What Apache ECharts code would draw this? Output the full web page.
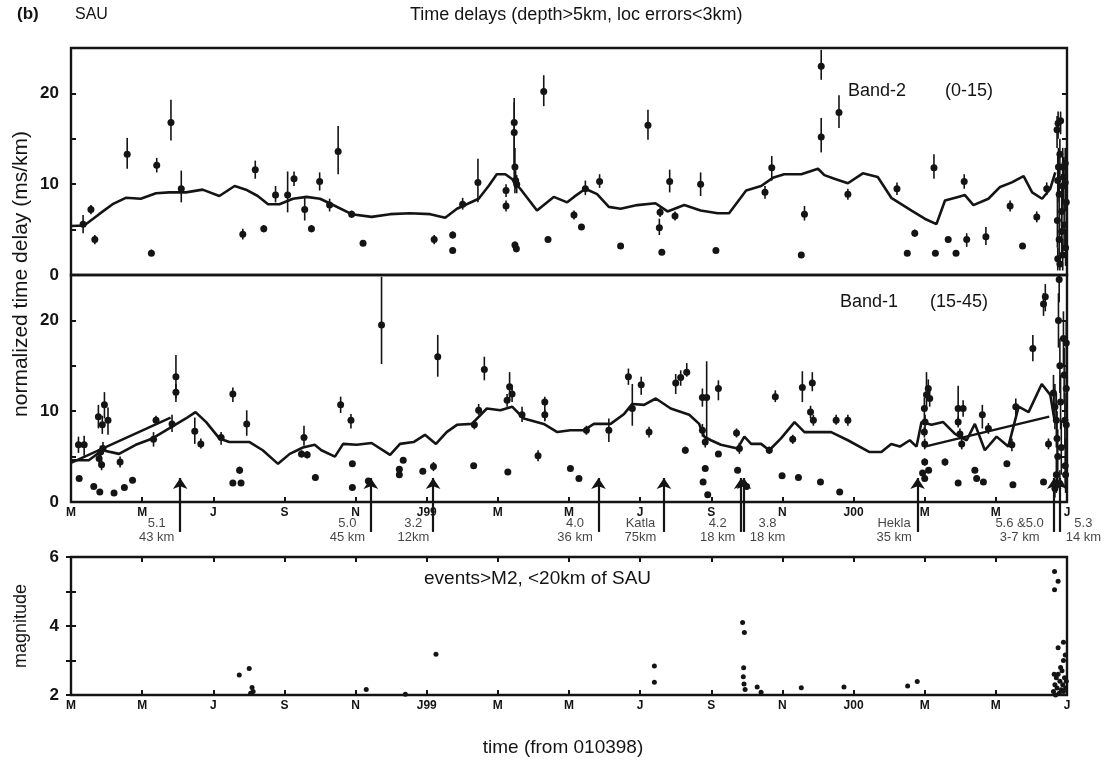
<!DOCTYPE html>
<html><head><meta charset="utf-8">
<script src="https://cdn.jsdelivr.net/npm/echarts@6/dist/echarts.min.js"></script>
<style>html,body{margin:0;padding:0;background:#fff}#c{width:1110px;height:761px}</style>
</head><body><div id="c"></div>
<script>
// x values are months since 1 March 1998
const monthTickLabels = ['M','M','J','S','N','J99','M','M','J','S','N','J00','M','M','J'];

// Band-2 (0-15): [month, delay, errLow, errHigh]
const band2Points = [
[0.34,5.6,4.6,6.6],[0.56,7.2,6.7,7.7],[0.67,3.9,3.4,4.4],[1.58,13.3,11.7,15.1],[2.26,2.4,2.1,2.8],
[2.41,12.1,11.3,12.9],[2.81,16.8,14.8,19.3],[3.10,9.5,8.0,11.5],[4.83,4.5,3.9,5.1],[5.18,11.6,10.6,12.6],
[5.42,5.1,4.7,5.5],[5.75,8.8,8.0,9.8],[6.09,8.8,6.9,11.4],[6.27,10.6,9.8,11.4],[6.57,7.2,6.0,8.6],
[6.76,5.1,4.7,5.5],[6.99,10.3,9.3,11.3],[7.27,7.7,7.0,8.4],[7.51,13.6,11.1,16.4],[7.89,6.7,6.3,7.1],
[8.21,3.5,3.2,3.8],[10.21,3.9,3.4,4.4],[10.73,4.4,4.0,4.8],[10.73,2.7,2.4,3.0],[11.01,7.8,7.2,8.5],
[11.44,10.2,8.0,12.8],[12.23,9.3,8.6,10.0],[12.23,7.6,7.0,8.2],[12.46,16.8,10.0,19.5],[12.46,15.7,12.0,19.0],
[12.48,11.9,9.0,14.0],[12.50,10.4,9.5,11.5],[12.53,10.0,9.0,11.0],[12.48,3.3,2.9,3.7],[12.52,2.9,2.5,3.3],
[13.29,20.2,18.6,22.0],[13.41,3.9,3.6,4.2],[14.14,6.6,6.1,7.1],[14.35,5.3,5.0,5.6],[14.46,9.5,8.8,10.4],
[14.86,10.3,9.6,11.1],[15.45,3.2,3.0,3.4],[16.22,16.5,14.9,18.2],[16.54,5.2,4.4,6.2],[16.56,6.9,6.4,7.4],
[16.61,2.5,2.3,2.7],[16.83,10.3,9.1,11.6],[16.98,6.5,6.0,7.0],[17.70,10.0,8.7,11.3],[18.13,2.7,2.5,2.9],
[19.51,9.1,8.4,9.8],[19.70,11.8,10.4,13.1],[20.53,2.2,2.0,2.4],[20.62,6.7,6.0,7.6],[21.09,23.0,21.5,24.8],
[21.09,15.2,13.5,17.3],[21.59,17.9,16.2,19.8],[21.84,8.9,8.3,9.5],[23.22,9.5,8.8,10.2],[23.51,2.4,2.2,2.6],
[23.72,4.6,4.2,5.0],[24.26,11.8,10.6,13.3],[24.30,2.4,2.2,2.6],[24.66,3.9,3.6,4.2],[24.88,2.4,2.2,2.6],
[25.11,10.3,9.5,11.1],[25.18,3.9,3.1,4.6],[25.72,4.2,3.3,5.3],[26.40,7.6,7.0,8.2],[26.75,3.2,3.0,3.4],
[27.15,6.4,5.8,7.0],[27.43,9.5,8.8,10.2],
[27.72,16.0,14,17.5],[27.75,16.7,15,18],[27.82,17.0,15.5,18],[27.76,11.9,9,14],[27.80,13.3,11,15],
[27.74,10.4,8,13],[27.78,8.9,6,12],[27.73,6.0,3,9],[27.78,3.9,1,6],[27.74,1.8,0.5,3],[27.88,11.9,9,14],
[27.90,10.8,8,13],[27.88,9.8,7,12],[27.95,12.3,10,14],[27.95,10.2,7,13],[27.85,7.0,4,10],[27.85,4.8,2,7],
[27.88,2.2,0.5,4],[27.92,5.5,3,8],[27.98,8.0,5,11],[27.96,3.0,1,5],[27.80,1.2,0.5,2]
];
const band2Curve = [
[0,5.4],[0.37,5.45],[0.79,6.7],[1.17,7.8],[1.54,8.5],[1.96,8.4],[2.39,9.0],[2.76,9.1],[3.23,9.1],[3.7,9.4],
[4.17,8.7],[4.6,9.8],[4.92,9.4],[5.25,8.7],[5.54,7.8],[5.86,7.8],[6.24,8.4],[6.62,8.6],[7.0,8.4],[7.27,7.9],
[7.89,6.7],[8.45,6.4],[8.97,6.7],[9.53,6.8],[10.1,6.7],[10.52,6.3],[10.85,7.3],[11.46,8.4],[11.74,9.8],
[11.97,11.1],[12.21,11.1],[12.39,10.6],[12.63,9.5],[13.1,7.1],[13.57,8.6],[13.95,8.0],[14.14,8.6],[14.46,9.5],
[14.79,8.9],[15.12,7.5],[15.45,7.3],[15.92,7.7],[16.43,7.9],[16.77,7.0],[17.24,7.7],[17.7,7.1],[18.18,6.8],
[18.5,6.8],[18.98,9.3],[19.4,9.8],[19.73,10.7],[20.05,11.1],[20.53,11.1],[21.0,11.7],[21.18,11.0],[21.46,10.6],
[21.84,10.1],[22.26,11.2],[22.68,10.8],[23.06,8.5],[23.63,7.1],[24.0,6.2],[24.33,5.6],[24.57,8.2],[24.94,8.6],
[25.13,8.8],[25.37,7.7],[25.79,8.4],[26.12,9.7],[26.45,10.2],[26.78,10.9],[27.02,9.1],[27.3,8.4],[27.53,9.5],[27.67,11.3]
];

// Band-1 (15-45): [month, delay, errLow, errHigh]
const band1Points = [
[0.21,6.3,5.4,7.2],[0.37,6.3,5.1,7.3],[0.77,9.4,8.1,10.7],[0.88,8.5,7.5,9.5],[0.94,10.7,9.2,12.1],
[1.04,9.0,7.4,10.4],[0.79,4.8,4.2,5.4],[0.83,5.5,4.8,6.2],[0.86,4.1,3.5,4.6],[0.90,5.9,5.3,6.6],
[1.38,4.4,3.8,5.0],[0.23,2.6,2.4,2.8],[0.64,1.7,1.5,1.9],[0.81,1.1,0.9,1.3],[1.21,1.0,0.8,1.2],
[1.50,1.6,1.4,1.8],[1.73,2.4,2.2,2.6],[2.32,6.9,6.1,7.7],[2.39,9.0,8.5,9.5],[2.84,8.6,7.7,9.6],
[2.95,13.8,11.4,16.2],[2.95,12.1,11.0,13.0],[3.48,7.8,6.4,9.3],[3.65,6.4,5.9,7.0],[4.22,7.1,6.3,7.7],
[4.55,11.9,11.0,12.6],[4.94,8.6,7.3,10.1],[4.74,3.5,3.1,3.9],[4.55,2.1,1.9,2.3],[4.78,2.1,1.9,2.3],
[6.55,7.1,6.2,8.4],[6.48,5.3,4.9,5.7],[6.64,5.2,4.8,5.6],[6.87,2.7,2.4,3.0],
[7.58,10.7,9.8,11.6],[7.87,9.0,8.1,9.7],[7.91,4.2,3.9,4.5],[7.91,1.6,1.4,1.8],[8.36,2.3,2.1,2.5],
[8.73,19.5,15.2,24.8],[9.23,3.6,3.3,3.9],[9.23,3.0,2.7,3.3],[9.34,4.6,4.3,4.9],[9.89,3.4,3.1,3.7],
[10.19,3.9,3.4,4.4],[10.31,16.0,13.8,18.4],[11.32,4.0,3.7,4.3],[11.34,8.5,8.0,9.0],[11.46,10.1,9.6,10.8],
[11.62,14.6,13.4,16.0],[12.26,11.2,10.5,11.9],[12.33,12.7,11.2,14.3],[12.40,11.9,11.0,12.8],[12.68,9.6,8.8,10.5],
[13.32,11.0,8.9,11.6],[13.32,9.6,9.0,10.2],[12.28,3.3,3.0,3.6],[13.13,5.1,4.5,5.7],[14.04,3.7,3.4,4.0],
[14.28,2.6,2.3,2.9],[14.49,7.9,7.4,8.4],[15.12,7.9,6.6,9.2],[15.67,13.8,12.9,14.7],[15.78,10.3,8.4,13.0],
[16.03,12.9,11.8,13.8],[16.25,7.7,7.1,8.3],[17.00,13.1,11.9,14.1],[17.14,13.7,12.8,14.5],[17.31,14.3,13.8,15.3],
[17.75,11.5,10.5,12.5],[17.87,11.5,7.0,15.5],[17.75,7.9,7.2,8.6],[17.83,6.6,6.0,7.2],[18.20,12.5,11.2,13.4],
[17.27,5.7,5.3,6.1],[18.20,5.3,5.0,5.6],[18.71,7.6,7.1,8.1],[18.79,5.9,5.3,6.5],[17.83,3.7,3.4,4.0],
[17.77,2.2,2.0,2.4],[17.90,0.8,0.6,1.1],[18.74,3.5,3.2,3.8],[18.99,1.7,1.5,1.9],[19.63,5.7,5.3,6.1],
[19.80,11.6,11.0,12.3],[19.99,2.9,2.6,3.2],[20.29,6.9,6.4,7.4],[20.45,2.7,2.5,2.9],[20.56,12.6,11.0,14.4],
[20.84,13.1,12.2,14.3],[20.79,9.9,9.2,10.6],[20.87,9.0,8.4,9.6],[21.07,2.2,2.0,2.4],
[21.51,9.0,8.5,9.6],[21.84,9.0,8.4,9.6],[21.61,1.1,0.9,1.3],
[23.99,10.3,9.0,11.5],[24.01,8.8,8.0,9.6],[23.99,7.7,7.1,8.3],[24.00,6.4,5.8,7.0],[24.00,4.4,4.0,4.8],
[23.94,3.2,2.9,3.5],[24.11,3.5,3.2,3.8],[24.00,2.6,2.3,2.9],[24.05,11.8,10.3,14.3],[24.10,12.5,11.5,13.5],
[24.14,11.4,10.5,12.3],[24.57,4.4,4.0,4.8],[24.94,10.3,8.8,12.8],[25.08,10.3,9.4,11.2],[24.94,8.8,8.2,9.4],
[24.99,7.5,6.9,8.1],[25.04,6.4,5.8,7.0],[24.94,2.1,1.9,2.3],[25.41,3.5,3.2,3.8],[25.46,2.6,2.4,2.8],
[25.65,2.2,2.0,2.4],[25.62,9.6,8.1,10.7],[25.79,8.1,7.5,8.7],[26.45,6.3,5.6,7.0],[26.31,4.2,4.0,4.4],
[26.48,1.9,1.7,2.1],[26.56,10.5,9.3,11.4],[27.04,16.9,15.5,18.4],[27.39,22.6,21.0,24.0],[27.34,21.8,20.5,23.0],
[27.34,2.2,2.0,2.4],[27.48,6.4,5.8,7.0],
[27.62,12.0,10,14],[27.66,10.5,8,13],[27.70,9.0,6,12],[27.72,7.0,4,10],[27.74,5.0,2,8],[27.70,3.0,1,5],
[27.66,1.5,0.5,2.5],[27.78,24.5,22,25],[27.76,20.0,17,23],[27.80,15.0,12,18],[27.82,11.0,8,14],[27.84,6.0,3,9],
[27.80,2.0,0.5,3.5],[27.90,18.0,15,21],[27.92,14.0,11,17],[27.94,9.0,6,12],[27.95,4.0,1.5,7],[27.98,17.5,15,20],
[27.98,12.5,10,15],[27.98,8.5,6,11],[27.96,3.0,1,5]
];
const band1Curve = [
[0,4.6],[0.5,4.6],[0.88,5.7],[1.35,5.3],[1.82,6.3],[2.29,7.0],[2.76,8.1],[3.23,9.2],[3.5,9.9],[3.8,8.8],
[4.17,7.0],[4.45,6.6],[5.02,6.6],[5.39,5.7],[5.82,4.2],[6.15,5.3],[6.52,6.0],[6.85,6.3],[7.04,5.7],[7.42,5.0],
[7.65,6.4],[8.03,6.3],[8.45,6.5],[8.97,5.2],[9.25,6.4],[9.63,6.6],[9.95,7.4],[10.26,6.4],[10.56,7.7],[10.85,8.5],
[11.27,8.6],[11.69,10.3],[12.07,10.1],[12.4,10.5],[12.73,9.2],[13.29,8.6],[13.67,7.7],[14.04,7.9],[14.42,7.9],
[14.7,8.6],[15.17,8.6],[15.55,9.7],[15.78,10.8],[16.11,10.7],[16.44,11.4],[16.86,10.3],[17.38,9.6],[17.66,8.6],
[17.8,7.2],[17.99,6.8],[18.27,6.3],[18.74,5.9],[18.93,7.2],[19.12,6.4],[19.4,6.4],[19.63,5.7],[19.96,7.0],
[20.34,8.8],[20.62,7.7],[21.08,7.7],[21.37,7.7],[21.84,6.8],[22.45,5.5],[22.78,5.5],[23.06,6.4],[23.3,6.1],
[23.58,6.8],[23.77,6.1],[23.91,8.8],[24.19,8.5],[24.52,8.8],[24.85,7.5],[25.18,6.8],[25.41,8.6],[25.69,5.7],
[26.02,7.2],[26.35,6.1],[26.64,10.5],[26.92,9.9],[27.29,13.0],[27.53,11.8],[27.65,9.0]
];
const band1TrendA = [[0,4.3],[2.8,9.3]];
const band1TrendB = [[24.0,6.1],[27.5,9.4]];

// events > M2 within 20 km of SAU: [month, magnitude]
const quakeEvents = [
[4.73,2.58],[5.01,2.77],[5.09,2.22],[5.05,2.05],[5.12,2.10],[8.30,2.16],[9.40,2.02],[10.26,3.18],
[16.40,2.84],[16.40,2.37],[18.88,4.10],[18.93,3.81],[18.91,2.79],[18.90,2.53],[18.92,2.32],[18.95,2.16],
[19.29,2.23],[19.40,2.08],[20.53,2.21],[21.73,2.23],[23.52,2.26],[23.79,2.39],
[27.65,5.58],[27.75,5.30],[27.65,5.05],[27.90,3.53],[27.75,3.37],[27.95,3.16],[27.90,3.00],
[27.62,2.10],[27.66,2.30],[27.70,2.50],[27.72,2.20],[27.75,2.60],[27.78,2.05],[27.80,2.40],[27.84,2.15],
[27.86,2.70],[27.88,2.30],[27.90,2.10],[27.93,2.50],[27.96,2.20],[27.98,2.40],[27.64,2.60],[27.68,2.00],[27.82,2.80]
];

// large earthquakes marked with arrows
const arrowMonths = [3.07, 8.43, 10.18, 14.83, 16.67, 18.84, 18.92, 23.80, 27.64, 27.80];
const arrowTexts = ['5.1\n43 km','5.0\n45 km','3.2\n12km','4.0\n36 km','Katla\n75km','4.2\n18 km','3.8\n18 km','Hekla\n35 km','5.6 &5.0\n3-7 km','5.3\n14 km'];
const arrowTextSide = ['left','left','left','left','left','left','right','left','left','right'];

const FONT = 'Liberation Sans, Arial, sans-serif';
const INK = '#141414';
const chart = echarts.init(document.getElementById('c'), null, {renderer:'canvas'});

const gl = 71, gr = 43;
const grids = [
  {left:gl, right:gr, top:48, height:227, show:true, borderColor:INK, borderWidth:2.4},
  {left:gl, right:gr, top:275, height:227, show:true, borderColor:INK, borderWidth:2.4},
  {left:gl, right:gr, top:557, height:138, show:true, borderColor:INK, borderWidth:2.4},
  {left:gl, right:gr, top:478, height:62, show:false}
];
function xAx(grid, opts){
  return Object.assign({type:'value', gridIndex:grid, min:0, max:28, interval:2,
    axisLine:{show:false}, splitLine:{show:false},
    axisTick:{show:true, inside:true, length:5, lineStyle:{color:INK, width:2}},
    axisLabel:{show:true, formatter:v=>monthTickLabels[Math.round(v/2)], fontFamily:FONT, fontWeight:'bold', fontSize:12, color:INK, margin:5}
  }, opts||{});
}
function yAx(grid, min, max, interval, pos, showLabel, fmt){
  return {type:'value', gridIndex:grid, min:min, max:max, interval:interval, position:pos,
    axisLine:{show:false}, splitLine:{show:false},
    axisTick:{show:true, inside:true, length:5, lineStyle:{color:INK, width:2}},
    axisLabel:{show:showLabel, fontFamily:FONT, fontWeight:'bold', fontSize:17, color:INK, margin:12, formatter:fmt}
  };
}
const tensOnly = v => (v % 10 === 0 && v < 25) ? String(v) : '';
const evenOnly = v => (v % 2 === 0) ? String(v) : '';
const xAxes = [
  xAx(0,{axisLabel:{show:false}, axisTick:{show:false}}),
  xAx(1),
  xAx(2),
  xAx(2,{position:'top', axisLabel:{show:false}}),
  {type:'value', gridIndex:3, min:0, max:28, show:false}
];
const yAxes = [
  yAx(0,0,25,5,'left',true,tensOnly),
  yAx(0,0,25,5,'right',false,tensOnly),
  yAx(1,0,25,5,'left',true,tensOnly),
  yAx(1,0,25,5,'right',false,tensOnly),
  yAx(2,2,6,1,'left',true,evenOnly),
  yAx(2,2,6,1,'right',false,evenOnly),
  {type:'value', gridIndex:3, min:0, max:1, show:false}
];

function errBars(xi, yi, data){
  return {type:'custom', xAxisIndex:xi, yAxisIndex:yi, data:data, clip:true, silent:true, z:3,
    encode:{x:0, y:1},
    renderItem:function(params, api){
      const x = api.value(0), lo = api.value(2), hi = api.value(3);
      const p1 = api.coord([x, lo]), p2 = api.coord([x, hi]);
      return {type:'line', shape:{x1:p1[0], y1:p1[1], x2:p2[0], y2:p2[1]},
              style:{stroke:INK, lineWidth:1.6}};
    }};
}
function dots(xi, yi, data, size){
  return {type:'scatter', xAxisIndex:xi, yAxisIndex:yi, data:data.map(d=>[d[0], d[1]]),
    symbol:'circle', symbolSize:size, itemStyle:{color:INK, opacity:1}, clip:true, z:4, silent:true};
}
function curve(xi, yi, data, w){
  return {type:'line', xAxisIndex:xi, yAxisIndex:yi, data:data, showSymbol:false, smooth:false,
    lineStyle:{color:INK, width:w}, z:5, silent:true, animation:false};
}

const series = [
  errBars(0,0,band2Points), dots(0,0,band2Points,7), curve(0,0,band2Curve,2.6),
  errBars(1,2,band1Points), dots(1,2,band1Points,7), curve(1,2,band1Curve,2.6),
  curve(1,2,band1TrendA,2.4), curve(1,2,band1TrendB,2.4),
  dots(2,4,quakeEvents,5),
  {type:'lines', coordinateSystem:'cartesian2d', xAxisIndex:4, yAxisIndex:6, silent:true, z:6,
    symbol:['none','arrow'], symbolSize:[0,11],
    lineStyle:{color:INK, width:2.2, opacity:1},
    data: arrowMonths.map(m => ({coords:[[m,0.13],[m,1]]}))},
  {type:'scatter', xAxisIndex:4, yAxisIndex:6, silent:true, symbolSize:0, z:6,
    data: arrowMonths.map((m,i)=>{
      const lines = arrowTexts[i].split('\n');
      const w = Math.max.apply(null, lines.map(s=>s.length)) * 7.4;
      return {value:[m,0.16],
        label:{show:true, position:arrowTextSide[i], distance:5,
          formatter: lines.map(s=>'{t|'+s+'}').join('\n'),
          rich:{t:{width:w, align:'center', fontFamily:FONT, fontSize:13, lineHeight:14, color:INK}}}};
    })}
];

chart.setOption({
  animation:false,
  backgroundColor:'#fff',
  grid:grids, xAxis:xAxes, yAxis:yAxes, series:series,
  graphic:[
    {type:'text', left:17, top:6, style:{text:'(b)', font:'bold 17px '+FONT, fill:INK}},
    {type:'text', left:75, top:7, style:{text:'SAU', font:'16px '+FONT, fill:INK}},
    {type:'text', left:410, top:6, style:{text:'Time delays (depth>5km, loc errors<3km)', font:'18px '+FONT, fill:INK}},
    {type:'text', left:848, top:82, style:{text:'Band-2', font:'18px '+FONT, fill:INK}},
    {type:'text', left:945, top:82, style:{text:'(0-15)', font:'18px '+FONT, fill:INK}},
    {type:'text', left:840, top:293, style:{text:'Band-1', font:'18px '+FONT, fill:INK}},
    {type:'text', left:930, top:293, style:{text:'(15-45)', font:'18px '+FONT, fill:INK}},
    {type:'text', left:424, top:569, style:{text:'events>M2, <20km of SAU', font:'19px '+FONT, fill:INK}},
    {type:'text', x:11, y:274, rotation:Math.PI/2, style:{text:'normalized time delay (ms/km)', font:'21px '+FONT, fill:INK, align:'center', verticalAlign:'top'}},
    {type:'text', x:12, y:626, rotation:Math.PI/2, style:{text:'magnitude', font:'18px '+FONT, fill:INK, align:'center', verticalAlign:'top'}},
    {type:'text', x:563, y:738, style:{text:'time (from 010398)', font:'19px '+FONT, fill:INK, align:'center', verticalAlign:'top'}}
  ]
});
</script></body></html>
